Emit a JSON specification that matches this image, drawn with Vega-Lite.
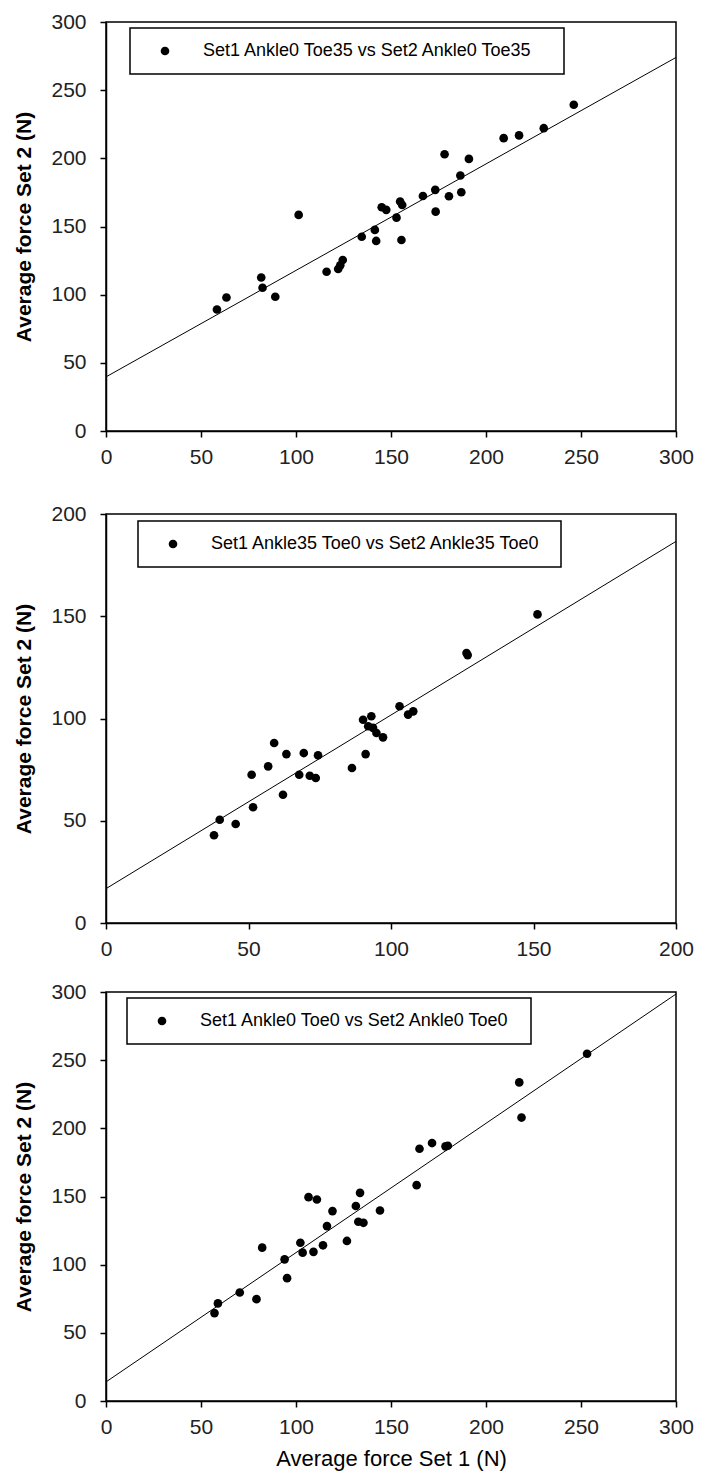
{
  "$schema": "https://vega.github.io/schema/vega-lite/v6.json",
  "padding": {"left": 13, "top": 10, "right": 5, "bottom": 5},
  "background": "white",
  "datasets": {
    "p1": [
      {"set1": 58.4, "set2": 89.1}, {"set1": 63.4, "set2": 97.9}, {"set1": 81.7, "set2": 112.6}, {"set1": 82.4, "set2": 105.1},
      {"set1": 89.1, "set2": 98.5}, {"set1": 101.4, "set2": 158.5}, {"set1": 116.1, "set2": 116.8}, {"set1": 122.2, "set2": 118.8},
      {"set1": 123.3, "set2": 121.5}, {"set1": 124.6, "set2": 125.4}, {"set1": 134.6, "set2": 142.5}, {"set1": 141.5, "set2": 147.5},
      {"set1": 142.2, "set2": 139.4}, {"set1": 145.1, "set2": 164.1}, {"set1": 147.5, "set2": 162.2}, {"set1": 152.9, "set2": 156.5},
      {"set1": 154.8, "set2": 168.3}, {"set1": 155.9, "set2": 165.8}, {"set1": 155.5, "set2": 140.1}, {"set1": 166.8, "set2": 172.4},
      {"set1": 173.3, "set2": 176.9}, {"set1": 173.5, "set2": 160.9}, {"set1": 178.2, "set2": 203.0}, {"set1": 180.5, "set2": 172.2},
      {"set1": 186.5, "set2": 187.4}, {"set1": 187.0, "set2": 175.1}, {"set1": 191.0, "set2": 199.6}, {"set1": 209.3, "set2": 214.8},
      {"set1": 217.4, "set2": 216.8}, {"set1": 230.4, "set2": 222.1}, {"set1": 246.2, "set2": 239.3}
    ],
    "l1": [{"set1": 0, "set2": 39.7}, {"set1": 300, "set2": 274}],
    "p2": [
      {"set1": 37.9, "set2": 42.9}, {"set1": 39.9, "set2": 50.5}, {"set1": 45.5, "set2": 48.4}, {"set1": 51.1, "set2": 72.5},
      {"set1": 51.6, "set2": 56.6}, {"set1": 56.9, "set2": 76.6}, {"set1": 59.0, "set2": 88.0}, {"set1": 62.1, "set2": 62.7},
      {"set1": 63.3, "set2": 82.6}, {"set1": 67.8, "set2": 72.5}, {"set1": 69.4, "set2": 83.1}, {"set1": 71.5, "set2": 72.0},
      {"set1": 73.6, "set2": 70.9}, {"set1": 74.4, "set2": 82.0}, {"set1": 86.3, "set2": 75.8}, {"set1": 90.2, "set2": 99.4},
      {"set1": 91.1, "set2": 82.6}, {"set1": 92.0, "set2": 96.2}, {"set1": 93.1, "set2": 101.1}, {"set1": 93.7, "set2": 95.4},
      {"set1": 94.9, "set2": 92.9}, {"set1": 97.2, "set2": 90.8}, {"set1": 103.0, "set2": 106.0}, {"set1": 106.0, "set2": 101.9},
      {"set1": 107.8, "set2": 103.5}, {"set1": 126.5, "set2": 132.0}, {"set1": 126.9, "set2": 131.0}, {"set1": 151.4, "set2": 150.9}
    ],
    "l2": [{"set1": 0, "set2": 16.8}, {"set1": 200, "set2": 186.6}],
    "p3": [
      {"set1": 57.1, "set2": 64.5}, {"set1": 58.9, "set2": 71.6}, {"set1": 70.4, "set2": 79.6}, {"set1": 79.2, "set2": 74.7},
      {"set1": 82.2, "set2": 112.5}, {"set1": 94.0, "set2": 103.9}, {"set1": 95.3, "set2": 90.1}, {"set1": 102.3, "set2": 116.1},
      {"set1": 103.5, "set2": 108.8}, {"set1": 106.6, "set2": 149.5}, {"set1": 111.0, "set2": 147.8}, {"set1": 109.2, "set2": 109.4},
      {"set1": 114.2, "set2": 114.2}, {"set1": 116.3, "set2": 128.3}, {"set1": 119.2, "set2": 139.3}, {"set1": 126.8, "set2": 117.4},
      {"set1": 131.5, "set2": 143.0}, {"set1": 132.8, "set2": 131.5}, {"set1": 133.7, "set2": 152.7}, {"set1": 135.5, "set2": 130.7},
      {"set1": 144.2, "set2": 139.7}, {"set1": 163.5, "set2": 158.3}, {"set1": 165.0, "set2": 185.0}, {"set1": 171.6, "set2": 189.2},
      {"set1": 178.7, "set2": 186.8}, {"set1": 179.9, "set2": 187.2}, {"set1": 217.5, "set2": 233.7}, {"set1": 218.7, "set2": 207.9},
      {"set1": 253.2, "set2": 254.7}
    ],
    "l3": [{"set1": 0, "set2": 14}, {"set1": 300, "set2": 298.5}]
  },
  "vconcat": [
    {
      "width": 570,
      "height": 409,
      "layer": [
        {
          "data": {"name": "l1"},
          "mark": {"type": "line", "color": "black", "strokeWidth": 1},
          "encoding": {
            "x": {"field": "set1", "type": "quantitative", "scale": {"domain": [0, 300], "nice": false},
                  "axis": {"values": [0, 50, 100, 150, 200, 250, 300], "title": " ", "titleFontSize": 10, "titlePadding": 4}},
            "y": {"field": "set2", "type": "quantitative", "scale": {"domain": [0, 300], "nice": false},
                  "axis": {"values": [0, 50, 100, 150, 200, 250, 300], "title": "Average force Set 2 (N)"}}
          }
        },
        {
          "data": {"name": "p1"},
          "mark": {"type": "point", "filled": true, "color": "black", "opacity": 1, "size": 75},
          "encoding": {
            "x": {"field": "set1", "type": "quantitative"},
            "y": {"field": "set2", "type": "quantitative"},
            "shape": {"datum": "Set1 Ankle0 Toe35 vs Set2 Ankle0 Toe35", "scale": {"range": ["circle"]},
                      "legend": {"title": "\u00a0", "titlePadding": 17, "legendX": 24, "legendY": 6}}
          }
        }
      ]
    },
    {
      "width": 570,
      "height": 409,
      "layer": [
        {
          "data": {"name": "l2"},
          "mark": {"type": "line", "color": "black", "strokeWidth": 1},
          "encoding": {
            "x": {"field": "set1", "type": "quantitative", "scale": {"domain": [0, 200], "nice": false},
                  "axis": {"values": [0, 50, 100, 150, 200], "title": null}},
            "y": {"field": "set2", "type": "quantitative", "scale": {"domain": [0, 200], "nice": false},
                  "axis": {"values": [0, 50, 100, 150, 200], "title": "Average force Set 2 (N)"}}
          }
        },
        {
          "data": {"name": "p2"},
          "mark": {"type": "point", "filled": true, "color": "black", "opacity": 1, "size": 75},
          "encoding": {
            "x": {"field": "set1", "type": "quantitative"},
            "y": {"field": "set2", "type": "quantitative"},
            "shape": {"datum": "Set1 Ankle35 Toe0 vs Set2 Ankle35 Toe0", "scale": {"range": ["circle"]},
                      "legend": {"title": "\u00a0", "titlePadding": 6, "legendX": 32, "legendY": 7}}
          }
        }
      ]
    },
    {
      "width": 570,
      "height": 409,
      "layer": [
        {
          "data": {"name": "l3"},
          "mark": {"type": "line", "color": "black", "strokeWidth": 1},
          "encoding": {
            "x": {"field": "set1", "type": "quantitative", "scale": {"domain": [0, 300], "nice": false},
                  "axis": {"values": [0, 50, 100, 150, 200, 250, 300], "title": "Average force Set 1 (N)"}},
            "y": {"field": "set2", "type": "quantitative", "scale": {"domain": [0, 300], "nice": false},
                  "axis": {"values": [0, 50, 100, 150, 200, 250, 300], "title": "Average force Set 2 (N)"}}
          }
        },
        {
          "data": {"name": "p3"},
          "mark": {"type": "point", "filled": true, "color": "black", "opacity": 1, "size": 75},
          "encoding": {
            "x": {"field": "set1", "type": "quantitative"},
            "y": {"field": "set2", "type": "quantitative"},
            "shape": {"datum": "Set1 Ankle0 Toe0 vs Set2 Ankle0 Toe0", "scale": {"range": ["circle"]},
                      "legend": {"title": "\u00a0", "titlePadding": 7, "legendX": 21, "legendY": 6}}
          }
        }
      ]
    }
  ],
  "resolve": {
    "scale": {"x": "independent", "y": "independent", "shape": "independent"},
    "legend": {"shape": "independent"}
  },
  "config": {
    "concat": {"spacing": 20},
    "view": {"stroke": "black", "strokeWidth": 1.5},
    "axis": {
      "grid": false,
      "domainColor": "black", "domainWidth": 1.5,
      "tickColor": "black", "tickWidth": 1.5, "tickSize": 6,
      "labelFont": "Liberation Sans", "labelFontSize": 21, "labelColor": "#222",
      "labelFlush": false, "labelOverlap": false,
      "titleFont": "Liberation Sans", "titleColor": "black"
    },
    "axisY": {"labelPadding": 14, "titleFontSize": 21, "titleFontWeight": "bold", "titlePadding": 16},
    "axisX": {"labelPadding": 9, "titleFontSize": 22, "titleFontWeight": "normal", "titlePadding": 11},
    "legend": {
      "orient": "none",
      "strokeColor": "black", "strokeWidth": 1.5, "fillColor": "white",
      "padding": 14,
      "labelFont": "Liberation Sans", "labelFontSize": 18, "labelColor": "black", "labelLimit": 700,
      "labelOffset": 29, "symbolOffset": 12,
      "symbolType": "circle", "symbolSize": 75, "symbolFillColor": "black", "symbolStrokeColor": "black", "symbolStrokeWidth": 0,
      "titleOrient": "right", "titleFontSize": 4
    }
  }
}
